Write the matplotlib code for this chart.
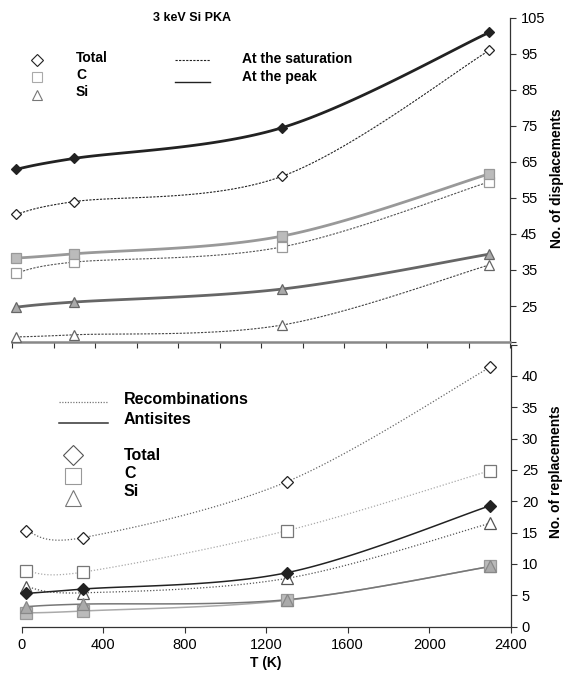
import numpy as np
import matplotlib
matplotlib.use("Agg")
import matplotlib.pyplot as plt

plt.rcParams['font.family'] = ['Liberation Sans', 'DejaVu Sans']

# temperatures (K)
temps = [20, 300, 1300, 2300]

# displacements, at the peak / at the saturation
total_peak = [63.0, 66.0, 74.5, 101.0]
total_sat = [50.5, 54.0, 61.0, 96.0]
c_peak = [38.3, 39.5, 44.4, 61.7]
c_sat = [34.2, 37.2, 41.4, 59.5]
si_peak = [24.7, 26.1, 29.7, 39.4]
si_sat = [16.4, 17.0, 19.7, 36.4]

# replacements
total_rec = [15.3, 14.2, 23.1, 41.4]
c_rec = [8.9, 8.7, 15.3, 24.9]
si_rec = [6.4, 5.4, 7.7, 16.5]
total_anti = [5.3, 6.0, 8.6, 19.3]
si_anti = [3.2, 3.6, 4.3, 9.6]
c_anti = [2.2, 2.5, 4.2, 9.6]


def smooth(x, y, n=40):
    # bezier smoothing through the points, like a spreadsheet "smoothed line"
    p = np.column_stack([x, y]).astype(float)
    ext = np.vstack([p[0], p, p[-1]])
    out = []
    t = np.linspace(0, 1, n)[:, None]
    for i in range(len(p) - 1):
        p0, p1 = p[i], p[i + 1]
        c1 = p0 + (ext[i + 2] - ext[i]) / 6.0
        c2 = p1 - (ext[i + 3] - ext[i + 1]) / 6.0
        seg = ((1 - t) ** 3) * p0 + 3 * ((1 - t) ** 2) * t * c1 + 3 * (1 - t) * t ** 2 * c2 + t ** 3 * p1
        out.append(seg)
    s = np.vstack(out)
    return s[:, 0], s[:, 1]


def series(ax, y, lc, lw, ls, marker, ms, fc, ec, mew=0.9):
    sx, sy = smooth(temps, y)
    ax.plot(sx, sy, color=lc, lw=lw, ls=ls, solid_capstyle='round')
    ax.plot(temps, y, ls='none', marker=marker, ms=ms, mfc=fc, mec=ec, mew=mew, clip_on=False, zorder=5)


W, H = 566, 673
fig = plt.figure(figsize=(W / 100, H / 100), dpi=100)

# ---------- top panel ----------
ax1 = fig.add_axes([12 / W, 1 - 342 / H, (510 - 12) / W, (342 - 18) / H])
series(ax1, c_sat, '#555555', 0.8, (0, (2, 1.2)), 's', 7, 'white', '#999999')
series(ax1, si_sat, '#444444', 0.8, (0, (2, 1.2)), '^', 7, 'white', '#666666')
series(ax1, total_sat, '#222222', 0.8, (0, (2, 1.2)), 'D', 5, 'white', '#222222')
series(ax1, si_peak, '#666666', 2.0, '-', '^', 7, '#aaaaaa', '#666666')
series(ax1, c_peak, '#999999', 2.0, '-', 's', 7, '#bbbbbb', '#999999')
series(ax1, total_peak, '#222222', 2.0, '-', 'D', 5.5, '#222222', '#222222')

ax1.set_xlim(0, 2400)
ax1.set_ylim(15, 105)
ax1.set_xticks(np.arange(0, 2401, 200))
ax1.set_xticklabels([])
yt = np.arange(15, 106, 10)
ax1.set_yticks(yt)
ax1.set_yticklabels([''] + [str(v) for v in yt[1:]])
ax1.yaxis.tick_right()
ax1.tick_params(axis='y', direction='out', length=4, width=0.8, color='#333333', labelsize=10.5, pad=4)
ax1.tick_params(axis='x', direction='out', length=4, width=0.8, color='#333333')
for s in ['top', 'left']:
    ax1.spines[s].set_visible(False)
ax1.spines['right'].set_color('#333333')
ax1.spines['right'].set_linewidth(0.9)
ax1.spines['bottom'].set_color('#888888')
ax1.spines['bottom'].set_linewidth(1.8)
ax1.patch.set_alpha(0)

fig.text(192 / W, 1 - 18 / H, '3 keV Si PKA', ha='center', va='center', fontsize=9, fontweight='bold')

# top legend
def fx(px):
    return px / W


def fy(py):
    return 1 - py / H


lg = [('D', 'Total', 60, 'white', '#222222', 6), ('s', 'C', 77, 'white', '#aaaaaa', 7), ('^', 'Si', 95, 'white', '#777777', 7)]
for m, lab, py, fc, ec, ms in lg:
    fig.lines.append(plt.Line2D([fx(37)], [fy(py)], ls='none', marker=m, ms=ms, mfc=fc, mec=ec, mew=0.8,
                                transform=fig.transFigure))
for lab, py in [('Total', 58), ('C', 75), ('Si', 92)]:
    fig.text(fx(76), fy(py), lab, ha='left', va='center', fontsize=10, fontweight='bold')
fig.lines.append(plt.Line2D([fx(175), fx(210)], [fy(60), fy(60)], color='#222222', lw=0.8, ls=(0, (2, 1.2)),
                            transform=fig.transFigure))
fig.lines.append(plt.Line2D([fx(175), fx(210)], [fy(82), fy(82)], color='#222222', lw=1.0,
                            transform=fig.transFigure))
fig.text(fx(242), fy(59), 'At the saturation', ha='left', va='center', fontsize=10, fontweight='bold')
fig.text(fx(242), fy(77), 'At the peak', ha='left', va='center', fontsize=10, fontweight='bold')
fig.text(fx(557), fy(178), 'No. of displacements', rotation=90, ha='center', va='center', fontsize=10,
         fontweight='bold')

# ---------- bottom panel ----------
ax2 = fig.add_axes([21.7 / W, 1 - 626.7 / H, (510.7 - 21.7) / W, 282.2 / H])
series(ax2, c_rec, '#aaaaaa', 0.9, (0, (1, 1.5)), 's', 9, 'white', '#777777')
series(ax2, si_rec, '#555555', 0.9, (0, (1, 1.5)), '^', 9, 'white', '#555555')
series(ax2, total_rec, '#666666', 0.9, (0, (1, 1.5)), 'D', 6, 'white', '#222222')
series(ax2, c_anti, '#aaaaaa', 1.1, '-', 's', 9, '#bbbbbb', '#999999')
series(ax2, si_anti, '#777777', 1.1, '-', '^', 9, '#aaaaaa', '#888888')
series(ax2, total_anti, '#222222', 1.1, '-', 'D', 6, '#222222', '#222222')

ax2.set_xlim(0, 2400)
ax2.set_ylim(0, 45)
ax2.set_xticks(np.arange(0, 2401, 400))
ax2.set_xticklabels([str(v) for v in range(0, 2401, 400)])
yt2 = np.arange(0, 46, 5)
ax2.set_yticks(yt2)
ax2.set_yticklabels([str(v) for v in yt2[:-1]] + [''])
ax2.yaxis.tick_right()
ax2.tick_params(axis='both', direction='out', length=4, width=0.8, color='#333333', labelsize=10.5, pad=4)
for s in ['top', 'left']:
    ax2.spines[s].set_visible(False)
for s in ['right', 'bottom']:
    ax2.spines[s].set_color('#333333')
    ax2.spines[s].set_linewidth(0.9)
ax2.patch.set_alpha(0)
ax2.set_xlabel('T (K)', fontsize=10, fontweight='bold', labelpad=3)

fig.text(fx(556), fy(472), 'No. of replacements', rotation=90, ha='center', va='center', fontsize=10,
         fontweight='bold')

# bottom legend
fig.lines.append(plt.Line2D([fx(59), fx(108)], [fy(402), fy(402)], color='#777777', lw=0.9, ls=(0, (1, 1.2)),
                            transform=fig.transFigure))
fig.lines.append(plt.Line2D([fx(59), fx(108)], [fy(423), fy(423)], color='#333333', lw=1.1,
                            transform=fig.transFigure))
fig.text(fx(124), fy(400), 'Recombinations', ha='left', va='center', fontsize=11.5, fontweight='bold')
fig.text(fx(124), fy(419), 'Antisites', ha='left', va='center', fontsize=11.5, fontweight='bold')
lg2 = [('D', 455, 'white', '#555555', 10), ('s', 476, 'white', '#999999', 11), ('^', 498, 'white', '#777777', 11)]
for m, py, fc, ec, ms in lg2:
    fig.lines.append(plt.Line2D([fx(73)], [fy(py)], ls='none', marker=m, ms=ms, mfc=fc, mec=ec, mew=0.8,
                                transform=fig.transFigure))
for lab, py in [('Total', 455), ('C', 473), ('Si', 491)]:
    fig.text(fx(124), fy(py), lab, ha='left', va='center', fontsize=11.5, fontweight='bold')

fig.savefig('out.png', dpi=100)
